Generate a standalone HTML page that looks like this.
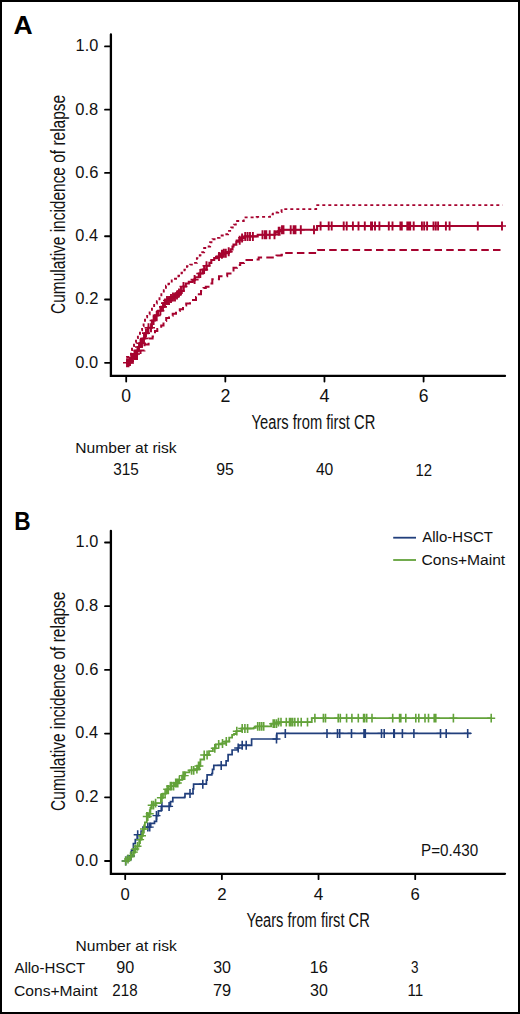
<!DOCTYPE html>
<html><head><meta charset="utf-8"><style>
html,body{margin:0;padding:0;background:#fff;}
body{width:520px;height:1014px;overflow:hidden;}
svg{display:block;}
text{font-family:"Liberation Sans",sans-serif;}
</style></head><body>
<svg width="520" height="1014" viewBox="0 0 520 1014" font-family="Liberation Sans, sans-serif">
<rect x="0" y="0" width="520" height="1014" fill="#fff"/>
<path d="M110.9 34.5 V375.9 H505" fill="none" stroke="#000" stroke-width="2.3" stroke-linejoin="miter" stroke-linecap="round"/>
<line x1="105" y1="362.8" x2="110" y2="362.8" stroke="#000" stroke-width="1.8" stroke-linecap="round"/>
<line x1="105" y1="299.52" x2="110" y2="299.52" stroke="#000" stroke-width="1.8" stroke-linecap="round"/>
<line x1="105" y1="236.24" x2="110" y2="236.24" stroke="#000" stroke-width="1.8" stroke-linecap="round"/>
<line x1="105" y1="172.96" x2="110" y2="172.96" stroke="#000" stroke-width="1.8" stroke-linecap="round"/>
<line x1="105" y1="109.68" x2="110" y2="109.68" stroke="#000" stroke-width="1.8" stroke-linecap="round"/>
<line x1="105" y1="46.4" x2="110" y2="46.4" stroke="#000" stroke-width="1.8" stroke-linecap="round"/>
<line x1="126.2" y1="377" x2="126.2" y2="381.5" stroke="#000" stroke-width="1.8" stroke-linecap="round"/>
<line x1="225.33" y1="377" x2="225.33" y2="381.5" stroke="#000" stroke-width="1.8" stroke-linecap="round"/>
<line x1="324.46" y1="377" x2="324.46" y2="381.5" stroke="#000" stroke-width="1.8" stroke-linecap="round"/>
<line x1="423.59" y1="377" x2="423.59" y2="381.5" stroke="#000" stroke-width="1.8" stroke-linecap="round"/>
<path d="M110.9 530.8 V873.8 H505" fill="none" stroke="#000" stroke-width="2.3" stroke-linejoin="miter" stroke-linecap="round"/>
<line x1="105" y1="861" x2="110" y2="861" stroke="#000" stroke-width="1.8" stroke-linecap="round"/>
<line x1="105" y1="797.3" x2="110" y2="797.3" stroke="#000" stroke-width="1.8" stroke-linecap="round"/>
<line x1="105" y1="733.6" x2="110" y2="733.6" stroke="#000" stroke-width="1.8" stroke-linecap="round"/>
<line x1="105" y1="669.9" x2="110" y2="669.9" stroke="#000" stroke-width="1.8" stroke-linecap="round"/>
<line x1="105" y1="606.2" x2="110" y2="606.2" stroke="#000" stroke-width="1.8" stroke-linecap="round"/>
<line x1="105" y1="542.5" x2="110" y2="542.5" stroke="#000" stroke-width="1.8" stroke-linecap="round"/>
<line x1="125.2" y1="875" x2="125.2" y2="879.2" stroke="#000" stroke-width="1.8" stroke-linecap="round"/>
<line x1="221.87" y1="875" x2="221.87" y2="879.2" stroke="#000" stroke-width="1.8" stroke-linecap="round"/>
<line x1="318.54" y1="875" x2="318.54" y2="879.2" stroke="#000" stroke-width="1.8" stroke-linecap="round"/>
<line x1="415.21" y1="875" x2="415.21" y2="879.2" stroke="#000" stroke-width="1.8" stroke-linecap="round"/>
<path d="M126 362.8 H127 V357 H131 V350 H132 V346 H134 V342.5 H136 V338 H137.9 V333.8 H140 V330.4 H142.1 V326 H143.6 V322.3 H145 V317.3 H147.15 V314.2 H149.65 V310.8 H151.95 V307.3 H154.15 V303.5 H156.85 V301.2 H159.5 V297 H161.35 V293 H163.8 V290.3 H165.95 V285.8 H168.45 V283.8 H171.75 V280.4 H175 V278.8 H178.45 V275.8 H181.55 V272.7 H184.45 V269.6 H186.95 V266.2 H190.2 V264.6 H193.65 V262.9 H196.9 V258.1 H199.8 V255.2 H202.25 V252.3 H204.15 V248 H207 V246.5 H210.15 V242.2 H212.55 V239.3 H216.15 V237.9 H219.55 V235.5 H223.7 V234.2 H228.1 V230.9 H231.25 V227.5 H233.9 V224.6 H235.8 V221 H242.8 V221 H243.75 V217.4 H256.7 V216.9 H270 V214.4 H272.9 V212.5 H278.2 V212 H281.55 V209.1 H315.2 V209.1 H316.15 V205.1 H502.5 V205.1" fill="none" stroke="#A6032F" stroke-width="1.9" stroke-dasharray="3 3"/>
<path d="M126 362.8 H133 V359 H137 V355 H140.5 V350.6 H144.5 V344.5 H148.6 V338.5 H152.6 V336.4 H155 V331 H157.3 V329 H161.2 V325.4 H163.5 V321 H166.2 V318.1 H169 V315.7 H172.7 V313.8 H176 V311 H179.8 V309.2 H183 V305.5 H186.2 V303.5 H190 V301.5 H193 V300 H196 V297 H198.8 V294.2 H201 V291 H203.5 V288.1 H205.8 V286.7 H208.5 V283.5 H212.3 V279.2 H219 V276.3 H227.2 V273.5 H230.5 V270.5 H233.5 V267.7 H237 V265 H240.2 V262.9 H244 V260 H256.5 V259.4 H258.7 V257.4 H275.8 V257.4 H276.5 V255.6 H281.5 V254.8 H284.4 V252.9 H317.1 V252.9 H318.1 V250.1 H502 V250.1" fill="none" stroke="#A6032F" stroke-width="2" stroke-dasharray="7.5 4.2"/>
<path d="M126 362.8 H128.6 V361.5 H131.5 V357.5 H134 V354 H136.4 V350.8 H138.5 V347 H140 V343.2 H142.5 V338.5 H145.2 V333.1 H147.9 V327.7 H151.9 V320.5 H155 V315.4 H158.1 V310.8 H161.2 V306.9 H163.7 V303.1 H166.5 V300.5 H169.4 V298.5 H172 V297 H175.2 V295 H178 V293 H181 V291 H183.5 V286.5 H185.8 V283.5 H188.8 V281.9 H192.7 V280.8 H194.2 V279.6 H195 V277.3 H198.8 V273.5 H202.7 V269.6 H206.5 V265.8 H209.4 V262.9 H211.3 V260 H214.2 V258.1 H217.1 V256.6 H220 V254.2 H223.8 V253.3 H228.7 V251.8 H230.6 V249.4 H232.5 V246.5 H233.5 V244.6 H236.3 V241.7 H239.2 V240.3 H241.2 V237.9 H245 V236.4 H253.8 V236.4 H257.7 V234.7 H273.8 V234.7 H274.8 V232.7 H277.7 V231.25 H281.5 V229.8 H316.2 V229.8 H317.1 V226 H502 V226" fill="none" stroke="#A6032F" stroke-width="2.1"/>
<path d="M127 358.3V367.3M128.5 358.3V367.3M130 357V366M131.5 353V362M133 353V362M134.5 349.5V358.5M136 349.5V358.5M137.5 346.3V355.3M139 342.5V351.5M140.5 338.7V347.7M142 338.7V347.7M144 334V343M146 328.6V337.6M148.5 323.2V332.2M151 323.2V332.2M153.6 316V325M156.7 310.9V319.9M160.4 306.3V315.3M163 302.4V311.4M165 298.6V307.6M167 296V305M169 296V305M171 294V303M173 292.5V301.5M175 292.5V301.5M177 290.5V299.5M179 288.5V297.5M181 286.5V295.5M183.5 282V291M194.6 275.1V284.1M200.3 269V278M204.1 265.1V274.1M206.5 261.3V270.3M219 252.1V261.1M221.9 249.7V258.7M223.8 248.8V257.8M225.8 248.8V257.8M228.7 247.3V256.3M239.7 235.8V244.8M242.1 233.4V242.4M245.2 231.9V240.9M247.6 231.9V240.9M250 231.9V240.9M252.9 231.9V240.9M262.5 230.2V239.2M264.9 230.2V239.2M266.3 230.2V239.2M269.7 230.2V239.2M274.5 230.2V239.2M278.7 226.75V235.75M279.6 226.75V235.75M282 225.3V234.3M283.5 225.3V234.3M290.7 225.3V234.3M293.6 225.3V234.3M295.5 225.3V234.3M300.8 225.3V234.3M314 225.3V234.3M320.6 221.5V230.5M328.7 221.5V230.5M331.7 221.5V230.5M343.7 221.5V230.5M346.7 221.5V230.5M352.9 221.5V230.5M358.5 221.5V230.5M364.8 221.5V230.5M371 221.5V230.5M372.1 221.5V230.5M375 221.5V230.5M379.4 221.5V230.5M388.8 221.5V230.5M392.5 221.5V230.5M400.4 221.5V230.5M401.8 221.5V230.5M407.3 221.5V230.5M409 221.5V230.5M410.2 221.5V230.5M413.7 221.5V230.5M421.9 221.5V230.5M424.2 221.5V230.5M427.1 221.5V230.5M433.5 221.5V230.5M435.8 221.5V230.5M438.1 221.5V230.5M445.9 221.5V230.5M449.6 221.5V230.5M477.8 221.5V230.5M502 221.5V230.5" fill="none" stroke="#A6032F" stroke-width="1.9"/>
<path d="M123 362.8H131M124.5 362.8H132.5M126 361.5H134M127.5 357.5H135.5M129 357.5H137M130.5 354H138.5M132 354H140M133.5 350.8H141.5M135 347H143M136.5 343.2H144.5M138 343.2H146M140 338.5H148M142 333.1H150M144.5 327.7H152.5M147 327.7H155M149.6 320.5H157.6M152.7 315.4H160.7M156.4 310.8H164.4M159 306.9H167M161 303.1H169M163 300.5H171M165 300.5H173M167 298.5H175M169 297H177M171 297H179M173 295H181M175 293H183M177 291H185M179.5 286.5H187.5M190.6 279.6H198.6M196.3 273.5H204.3M200.1 269.6H208.1M202.5 265.8H210.5M215 256.6H223M217.9 254.2H225.9M219.8 253.3H227.8M221.8 253.3H229.8M224.7 251.8H232.7M235.7 240.3H243.7M238.1 237.9H246.1M241.2 236.4H249.2M243.6 236.4H251.6M246 236.4H254M248.9 236.4H256.9M258.5 234.7H266.5M260.9 234.7H268.9M262.3 234.7H270.3M265.7 234.7H273.7M270.5 234.7H278.5M274.7 231.25H282.7M275.6 231.25H283.6M278 229.8H286M279.5 229.8H287.5M286.7 229.8H294.7M289.6 229.8H297.6M291.5 229.8H299.5M296.8 229.8H304.8M310 229.8H318M316.6 226H324.6M324.7 226H332.7M327.7 226H335.7M339.7 226H347.7M342.7 226H350.7M348.9 226H356.9M354.5 226H362.5M360.8 226H368.8M367 226H375M368.1 226H376.1M371 226H379M375.4 226H383.4M384.8 226H392.8M388.5 226H396.5M396.4 226H404.4M397.8 226H405.8M403.3 226H411.3M405 226H413M406.2 226H414.2M409.7 226H417.7M417.9 226H425.9M420.2 226H428.2M423.1 226H431.1M429.5 226H437.5M431.8 226H439.8M434.1 226H442.1M441.9 226H449.9M445.6 226H453.6M473.8 226H481.8M498 226H506" fill="none" stroke="#A6032F" stroke-width="1.6"/>
<path d="M125.2 861 H127.6 V856 H131.5 V850.2 H133.4 V843.5 H135.3 V839.6 H137.2 V834.8 H141.1 V831 H143 V827.1 H149.7 V827.1 H150.7 V823.3 H154.5 V821.3 H156.5 V815.6 H158.4 V810.8 H161.3 V806.4 H170.1 V806.4 H170.5 V801.7 H172.8 V797.7 H184.6 V797 H185 V793.6 H192.6 V793.6 H193 V788.9 H193.6 V784.2 H205.5 V784.2 H206.4 V780.2 H207.1 V774.8 H211.8 V773.5 H212.5 V769.4 H213.8 V765.4 H225.4 V765.4 H226.1 V760.8 H228.1 V754.7 H232.1 V750 H237.5 V748 H238.8 V745.3 H251 V745.3 H251.6 V739 H276.5 V739 H276.8 V733.4 H471 V733.4" fill="none" stroke="#213F7C" stroke-width="1.7"/>
<path d="M125.7 856.5V865.5M131 851.5V860.5M137.7 830.3V839.3M147.8 822.6V831.6M149.7 822.6V831.6M156.5 811.1V820.1M161.9 801.9V810.9M169.1 801.9V810.9M190 789.1V798.1M202.8 779.7V788.7M221.2 760.9V769.9M238.2 743.5V752.5M242.2 740.8V749.8M246.2 740.8V749.8M276.5 734.5V743.5M285.3 728.9V737.9M327 728.9V737.9M337.5 728.9V737.9M339.7 728.9V737.9M351.5 728.9V737.9M364 728.9V737.9M365.3 728.9V737.9M381.5 728.9V737.9M384.2 728.9V737.9M393.8 728.9V737.9M394.3 728.9V737.9M402.4 728.9V737.9M413.9 728.9V737.9M440.5 728.9V737.9M446.2 728.9V737.9M467.7 728.9V737.9" fill="none" stroke="#213F7C" stroke-width="1.6"/>
<path d="M121.7 861H129.7M127 856H135M133.7 834.8H141.7M143.8 827.1H151.8M145.7 827.1H153.7M152.5 815.6H160.5M157.9 806.4H165.9M165.1 806.4H173.1M186 793.6H194M198.8 784.2H206.8M217.2 765.4H225.2M234.2 748H242.2M238.2 745.3H246.2M242.2 745.3H250.2M272.5 739H280.5M281.3 733.4H289.3M323 733.4H331M333.5 733.4H341.5M335.7 733.4H343.7M347.5 733.4H355.5M360 733.4H368M361.3 733.4H369.3M377.5 733.4H385.5M380.2 733.4H388.2M389.8 733.4H397.8M390.3 733.4H398.3M398.4 733.4H406.4M409.9 733.4H417.9M436.5 733.4H444.5M442.2 733.4H450.2M463.7 733.4H471.7" fill="none" stroke="#213F7C" stroke-width="1.4"/>
<path d="M125.2 861 H127.5 V859 H129.5 V856.9 H131.5 V854.5 H133.4 V852.1 H135.3 V849 H137.2 V846.3 H139.2 V839.6 H141.1 V835.8 H143 V829 H144.9 V822.3 H146.8 V816.5 H148.2 V813.7 H150.4 V808 H151.3 V805.2 H155.6 V803.1 H160.9 V797.8 H163 V793.6 H166.2 V789.3 H170.4 V786.2 H174.6 V783 H178.9 V779.8 H182 V775.6 H185.2 V772.4 H189.4 V770.3 H194.7 V769.2 H197.9 V766 H200.4 V759.5 H204.2 V755 H209 V751.2 H212.9 V748.3 H215.8 V744.4 H221.5 V743.5 H225.4 V741.5 H229.2 V737.7 H232.1 V734.8 H234 V734 H236.2 V731.2 H241.5 V728.5 H253.6 V727.8 H255.7 V726.4 H269.8 V726.4 H271.1 V723.7 H278 V722.2 H311.3 V722.2 H311.8 V718.2 H491.2 V718.2" fill="none" stroke="#63A23A" stroke-width="1.8"/>
<path d="M125.7 856.6V865.4M128 854.6V863.4M130.5 852.5V861.3M133.9 847.7V856.5M135.3 844.6V853.4M137.5 841.9V850.7M140.1 835.2V844M142 831.4V840.2M144 824.6V833.4M146.8 812.1V820.9M147.8 812.1V820.9M149.7 809.3V818.1M151.7 800.8V809.6M153.5 800.8V809.6M155.6 798.7V807.5M160.9 793.4V802.2M162 793.4V802.2M165.1 789.2V798M167.2 784.9V793.7M168.3 784.9V793.7M170.4 781.8V790.6M171.5 781.8V790.6M173.6 781.8V790.6M175.7 778.6V787.4M176.7 778.6V787.4M177.8 778.6V787.4M179.4 775.4V784.2M183.1 771.2V780M184.7 771.2V780M191.6 765.9V774.7M193.7 765.9V774.7M196.9 764.8V773.6M198.5 761.6V770.4M199.4 761.6V770.4M204.2 750.6V759.4M207.1 750.6V759.4M214.8 743.9V752.7M218.7 740V748.8M222.5 739.1V747.9M226.3 737.1V745.9M236.8 726.8V735.6M242.2 724.1V732.9M244.9 724.1V732.9M247.6 724.1V732.9M257.7 722V730.8M259.7 722V730.8M261.7 722V730.8M263.7 722V730.8M273.2 719.3V728.1M274.5 719.3V728.1M276.5 719.3V728.1M278.5 717.8V726.6M281 717.8V726.6M286.3 717.8V726.6M289.5 717.8V726.6M291 717.8V726.6M292.7 717.8V726.6M294.8 717.8V726.6M298 717.8V726.6M301.2 717.8V726.6M307.5 717.8V726.6M314.9 713.8V722.6M323.4 713.8V722.6M325.5 713.8V722.6M338.2 713.8V722.6M340.3 713.8V722.6M346.6 713.8V722.6M351.9 713.8V722.6M358.3 713.8V722.6M363.6 713.8V722.6M364.6 713.8V722.6M366.7 713.8V722.6M372 713.8V722.6M392.7 713.8V722.6M399.6 713.8V722.6M400.8 713.8V722.6M405.8 713.8V722.6M415.8 713.8V722.6M418.8 713.8V722.6M425 713.8V722.6M428.5 713.8V722.6M434.2 713.8V722.6M435.8 713.8V722.6M453.4 713.8V722.6M491.2 713.8V722.6" fill="none" stroke="#63A23A" stroke-width="1.6"/>
<path d="M121.7 861H129.7M124 859H132M126.5 856.9H134.5M129.9 852.1H137.9M131.3 849H139.3M133.5 846.3H141.5M136.1 839.6H144.1M138 835.8H146M140 829H148M142.8 816.5H150.8M143.8 816.5H151.8M145.7 813.7H153.7M147.7 805.2H155.7M149.5 805.2H157.5M151.6 803.1H159.6M156.9 797.8H164.9M158 797.8H166M161.1 793.6H169.1M163.2 789.3H171.2M164.3 789.3H172.3M166.4 786.2H174.4M167.5 786.2H175.5M169.6 786.2H177.6M171.7 783H179.7M172.7 783H180.7M173.8 783H181.8M175.4 779.8H183.4M179.1 775.6H187.1M180.7 775.6H188.7M187.6 770.3H195.6M189.7 770.3H197.7M192.9 769.2H200.9M194.5 766H202.5M195.4 766H203.4M200.2 755H208.2M203.1 755H211.1M210.8 748.3H218.8M214.7 744.4H222.7M218.5 743.5H226.5M222.3 741.5H230.3M232.8 731.2H240.8M238.2 728.5H246.2M240.9 728.5H248.9M243.6 728.5H251.6M253.7 726.4H261.7M255.7 726.4H263.7M257.7 726.4H265.7M259.7 726.4H267.7M269.2 723.7H277.2M270.5 723.7H278.5M272.5 723.7H280.5M274.5 722.2H282.5M277 722.2H285M282.3 722.2H290.3M285.5 722.2H293.5M287 722.2H295M288.7 722.2H296.7M290.8 722.2H298.8M294 722.2H302M297.2 722.2H305.2M303.5 722.2H311.5M310.9 718.2H318.9M319.4 718.2H327.4M321.5 718.2H329.5M334.2 718.2H342.2M336.3 718.2H344.3M342.6 718.2H350.6M347.9 718.2H355.9M354.3 718.2H362.3M359.6 718.2H367.6M360.6 718.2H368.6M362.7 718.2H370.7M368 718.2H376M388.7 718.2H396.7M395.6 718.2H403.6M396.8 718.2H404.8M401.8 718.2H409.8M411.8 718.2H419.8M414.8 718.2H422.8M421 718.2H429M424.5 718.2H432.5M430.2 718.2H438.2M431.8 718.2H439.8M449.4 718.2H457.4M487.2 718.2H495.2" fill="none" stroke="#63A23A" stroke-width="1.4"/>
<line x1="393.2" y1="537.7" x2="416" y2="537.7" stroke="#213F7C" stroke-width="1.8" stroke-linecap="butt"/>
<line x1="393.2" y1="560" x2="416" y2="560" stroke="#63A23A" stroke-width="1.8" stroke-linecap="butt"/>
<text transform="translate(13.44,34.1) scale(1.0611,1)" font-size="25.00" font-weight="bold" fill="#000">A</text>
<text transform="translate(14.28,530) scale(0.8997,1)" font-size="25.15" font-weight="bold" fill="#000">B</text>
<text transform="translate(75.36,367.7) scale(0.9906,1)" font-size="16.62" font-weight="normal" fill="#111">0.0</text>
<text transform="translate(75.36,865.8) scale(0.9906,1)" font-size="16.62" font-weight="normal" fill="#111">0.0</text>
<text transform="translate(75.35,304.42) scale(0.9990,1)" font-size="16.62" font-weight="normal" fill="#111">0.2</text>
<text transform="translate(75.35,802.1) scale(0.9990,1)" font-size="16.62" font-weight="normal" fill="#111">0.2</text>
<text transform="translate(75.36,241.14) scale(0.9831,1)" font-size="16.62" font-weight="normal" fill="#111">0.4</text>
<text transform="translate(75.36,738.4) scale(0.9831,1)" font-size="16.62" font-weight="normal" fill="#111">0.4</text>
<text transform="translate(75.36,177.86) scale(0.9944,1)" font-size="16.62" font-weight="normal" fill="#111">0.6</text>
<text transform="translate(75.36,674.7) scale(0.9944,1)" font-size="16.62" font-weight="normal" fill="#111">0.6</text>
<text transform="translate(75.36,114.58) scale(0.9937,1)" font-size="16.62" font-weight="normal" fill="#111">0.8</text>
<text transform="translate(75.36,611) scale(0.9937,1)" font-size="16.62" font-weight="normal" fill="#111">0.8</text>
<text transform="translate(75.56,51.3) scale(0.9816,1)" font-size="16.62" font-weight="normal" fill="#111">1.0</text>
<text transform="translate(75.56,547.3) scale(0.9816,1)" font-size="16.62" font-weight="normal" fill="#111">1.0</text>
<text transform="translate(121.33,402.12) scale(1.0000,1)" font-size="17.51" font-weight="normal" fill="#111">0</text>
<text transform="translate(120.57,899.73) scale(1.0000,1)" font-size="16.67" font-weight="normal" fill="#111">0</text>
<text transform="translate(220.39,402.3) scale(1.0000,1)" font-size="17.77" font-weight="normal" fill="#111">2</text>
<text transform="translate(217.17,899.9) scale(1.0000,1)" font-size="16.91" font-weight="normal" fill="#111">2</text>
<text transform="translate(319.5,402.3) scale(1.0000,1)" font-size="18.02" font-weight="normal" fill="#111">4</text>
<text transform="translate(313.82,899.9) scale(1.0000,1)" font-size="17.15" font-weight="normal" fill="#111">4</text>
<text transform="translate(418.66,402.12) scale(1.0000,1)" font-size="17.51" font-weight="normal" fill="#111">6</text>
<text transform="translate(410.52,899.73) scale(1.0000,1)" font-size="16.67" font-weight="normal" fill="#111">6</text>
<text transform="translate(64.7,313.89) rotate(-90) scale(0.7809,1)" font-size="19.80" fill="#111">Cumulative incidence of relapse</text>
<text transform="translate(64.7,810.89) rotate(-90) scale(0.7817,1)" font-size="19.80" fill="#111">Cumulative incidence of relapse</text>
<text transform="translate(251.58,428.5) scale(0.7623,1)" font-size="19.30" font-weight="normal" fill="#111">Years from first CR</text>
<text transform="translate(246.48,926.5) scale(0.7604,1)" font-size="19.30" font-weight="normal" fill="#111">Years from first CR</text>
<text transform="translate(75.32,452.6) scale(1.0544,1)" font-size="14.80" font-weight="normal" fill="#111">Number at risk</text>
<text transform="translate(75.52,950.7) scale(1.0523,1)" font-size="14.80" font-weight="normal" fill="#111">Number at risk</text>
<text transform="translate(113.27,475.44) scale(0.9504,1)" font-size="16.10" font-weight="normal" fill="#111">315</text>
<text transform="translate(216.16,475.44) scale(0.9835,1)" font-size="16.10" font-weight="normal" fill="#111">95</text>
<text transform="translate(315.89,475.44) scale(0.9759,1)" font-size="16.10" font-weight="normal" fill="#111">40</text>
<text transform="translate(415.52,475.6) scale(0.9128,1)" font-size="16.33" font-weight="normal" fill="#111">12</text>
<text transform="translate(116.14,973.44) scale(0.9875,1)" font-size="16.38" font-weight="normal" fill="#111">90</text>
<text transform="translate(213.19,973.44) scale(0.9789,1)" font-size="16.38" font-weight="normal" fill="#111">30</text>
<text transform="translate(309.66,973.44) scale(0.9967,1)" font-size="16.38" font-weight="normal" fill="#111">16</text>
<text transform="translate(411.09,973.44) scale(0.8241,1)" font-size="16.38" font-weight="normal" fill="#111">3</text>
<text transform="translate(112.34,996.04) scale(0.9468,1)" font-size="15.96" font-weight="normal" fill="#111">218</text>
<text transform="translate(212.97,996.04) scale(1.0257,1)" font-size="15.96" font-weight="normal" fill="#111">79</text>
<text transform="translate(310.09,996.04) scale(1.0049,1)" font-size="15.96" font-weight="normal" fill="#111">30</text>
<text transform="translate(407.45,996.2) scale(0.9203,1)" font-size="16.42" font-weight="normal" fill="#111">11</text>
<text transform="translate(14.47,973) scale(0.9859,1)" font-size="15.20" font-weight="normal" fill="#111">Allo-HSCT</text>
<text transform="translate(14,996.1) scale(1.0416,1)" font-size="15.00" font-weight="normal" fill="#111">Cons+Maint</text>
<text transform="translate(422.27,542.1) scale(0.9859,1)" font-size="15.20" font-weight="normal" fill="#111">Allo-HSCT</text>
<text transform="translate(421.5,564.5) scale(1.0416,1)" font-size="15.00" font-weight="normal" fill="#111">Cons+Maint</text>
<text transform="translate(421.05,855.8) scale(0.9717,1)" font-size="15.70" font-weight="normal" fill="#111">P=0.430</text>
<rect x="1" y="1" width="518" height="1012" fill="none" stroke="#000" stroke-width="2"/>
</svg>
</body></html>
